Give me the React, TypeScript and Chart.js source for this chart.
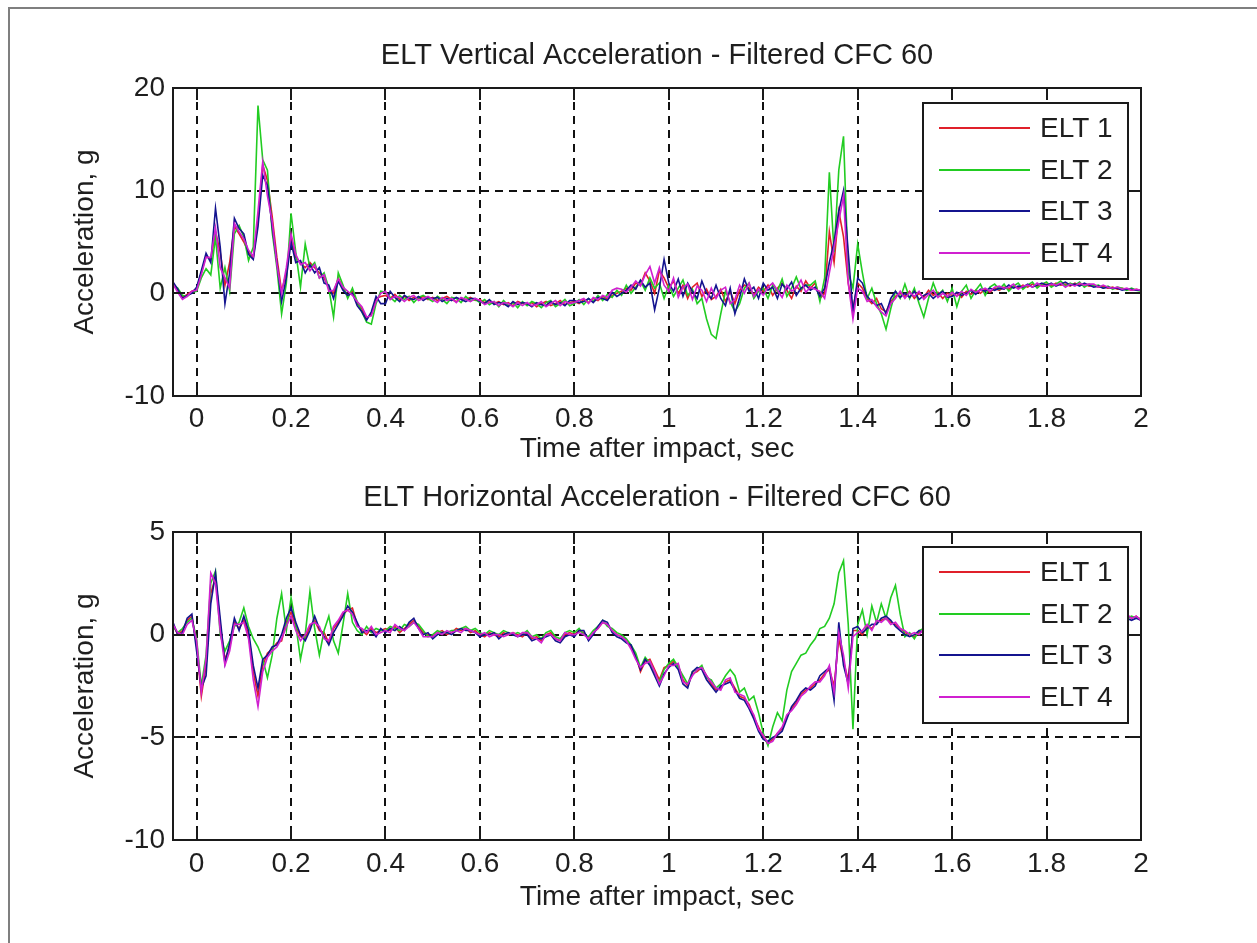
import React, { useEffect, useRef } from 'react';
import { Chart, registerables } from 'chart.js';

Chart.register(...registerables);

const FONT = "'Liberation Sans', Arial, Helvetica, sans-serif";
const TEXT_COLOR = '#1e1e1e';
const FONT_SIZE = 28;
const TITLE_FONT_SIZE = 29;

// Sample times (s)
const TIME = [
  -0.05, -0.04, -0.03, -0.02, -0.01,
  0.0, 0.01, 0.02, 0.03, 0.04, 0.05, 0.06, 0.07, 0.08, 0.09,
  0.1, 0.11, 0.12, 0.13, 0.14, 0.15, 0.16, 0.17, 0.18, 0.19,
  0.2, 0.21, 0.22, 0.23, 0.24, 0.25, 0.26, 0.27, 0.28, 0.29,
  0.3, 0.31, 0.32, 0.33, 0.34, 0.35, 0.36, 0.37, 0.38, 0.39,
  0.4, 0.41, 0.42, 0.43, 0.44, 0.45, 0.46, 0.47, 0.48, 0.49,
  0.5, 0.51, 0.52, 0.53, 0.54, 0.55, 0.56, 0.57, 0.58, 0.59,
  0.6, 0.61, 0.62, 0.63, 0.64, 0.65, 0.66, 0.67, 0.68, 0.69,
  0.7, 0.71, 0.72, 0.73, 0.74, 0.75, 0.76, 0.77, 0.78, 0.79,
  0.8, 0.81, 0.82, 0.83, 0.84, 0.85, 0.86, 0.87, 0.88, 0.89,
  0.9, 0.91, 0.92, 0.93, 0.94, 0.95, 0.96, 0.97, 0.98, 0.99,
  1.0, 1.01, 1.02, 1.03, 1.04, 1.05, 1.06, 1.07, 1.08, 1.09,
  1.1, 1.11, 1.12, 1.13, 1.14, 1.15, 1.16, 1.17, 1.18, 1.19,
  1.2, 1.21, 1.22, 1.23, 1.24, 1.25, 1.26, 1.27, 1.28, 1.29,
  1.3, 1.31, 1.32, 1.33, 1.34, 1.35, 1.36, 1.37, 1.38, 1.39,
  1.4, 1.41, 1.42, 1.43, 1.44, 1.45, 1.46, 1.47, 1.48, 1.49,
  1.5, 1.51, 1.52, 1.53, 1.54, 1.55, 1.56, 1.57, 1.58, 1.59,
  1.6, 1.61, 1.62, 1.63, 1.64, 1.65, 1.66, 1.67, 1.68, 1.69,
  1.7, 1.71, 1.72, 1.73, 1.74, 1.75, 1.76, 1.77, 1.78, 1.79,
  1.8, 1.81, 1.82, 1.83, 1.84, 1.85, 1.86, 1.87, 1.88, 1.89,
  1.9, 1.91, 1.92, 1.93, 1.94, 1.95, 1.96, 1.97, 1.98, 1.99,
  2.0,
];

const SERIES_LABELS = ['ELT 1', 'ELT 2', 'ELT 3', 'ELT 4'];
const SERIES_COLORS = ['#e0202a', '#22cc22', '#14148f', '#d020d0'];

const X_TICKS = [0, 0.2, 0.4, 0.6, 0.8, 1, 1.2, 1.4, 1.6, 1.8, 2];
const X_MIN = -0.05;
const X_MAX = 2;
const VERT_Y_TICKS = [-10, 0, 10, 20];
const HORIZ_Y_TICKS = [-10, -5, 0, 5];

const VERT_TITLE = 'ELT Vertical Acceleration - Filtered CFC 60';
const HORIZ_TITLE = 'ELT Horizontal Acceleration - Filtered CFC 60';
const X_TITLE = 'Time after impact, sec';
const Y_TITLE = 'Acceleration, g';

// ---------- Vertical acceleration (g) ----------
const VERT_ELT1 = [
  1.0, 0.3, -0.4, -0.1, 0.2,
  0.4, 2.0, 3.6, 3.3, 6.0, 4.0, 0.8, 3.0, 6.5, 5.8,
  5.0, 4.0, 3.5, 7.0, 12.5, 11.0, 7.5, 3.5, 0.2, 2.0,
  5.5, 3.5, 3.0, 2.5, 3.0, 2.5, 2.0, 1.5, 0.5, 0.0,
  1.5, 0.5, -0.3, 0.2, -1.0, -1.5, -2.5, -2.0, -0.5, -0.3,
  -0.2, -0.5, -0.1, -0.6, -0.3, -0.7, -0.4, -0.5, -0.3, -0.6,
  -0.4, -0.7, -0.5, -0.3, -0.6, -0.8, -0.5, -0.6, -0.4, -0.7,
  -0.6, -0.9, -0.7, -1.0, -0.8, -1.1, -0.9, -1.2, -0.8, -1.0,
  -1.1, -0.9, -1.3, -1.0, -0.8, -1.2, -1.0, -0.7, -1.1, -0.9,
  -0.8, -1.0, -0.6, -0.9, -0.5, -0.7, -0.3, -0.6, -0.2, 0.0,
  0.2, 0.5, 0.3, 1.0, 0.8, 2.0, 1.2, 0.0, 2.2, 1.5,
  0.5, 1.2, 0.0, 0.8, -0.5, 0.6, 1.0, -0.3, 0.4, -0.6,
  -0.3, 0.4, -0.8, 0.2, -1.0, 0.3, 0.8, 0.5, -0.2, 0.6,
  0.2, 0.8, -0.2, 0.5, 1.0, 0.3, -0.5, 0.7, 0.2, 1.2,
  0.5, 1.0, -0.5, 0.0, 6.0, 3.0, 8.0, 5.5, 1.0, -1.5,
  1.0, 0.5, -0.5, -1.0, -0.5, -1.5, -1.8, -0.8, -0.3, 0.0,
  -0.3, 0.2, -0.5, 0.0, -0.4, 0.3, -0.2, 0.1, -0.5, 0.0,
  -0.2, 0.0, -0.4, 0.2, -0.1, 0.3, 0.0, 0.4, 0.1, 0.5,
  0.3, 0.6, 0.4, 0.7, 0.5, 0.8, 0.6, 0.9, 0.7, 0.8,
  0.9, 0.7, 1.0, 0.8, 0.9, 0.7, 1.0, 0.8, 0.9, 0.7,
  0.8, 0.6, 0.7, 0.5, 0.6, 0.4, 0.5, 0.4, 0.3, 0.4,
  0.3,
];

const VERT_ELT2 = [
  0.8, 0.5, -0.2, -0.3, 0.1,
  0.2, 1.5, 2.4, 1.8, 5.5, 0.5, 2.5, 0.2, 5.8, 6.6,
  5.5, 3.2, 4.5, 18.3, 13.0, 12.0, 6.0, 2.5, -2.0, 1.0,
  7.8, 4.0, 0.6, 4.8, 2.5, 3.0, 1.5, 2.0, 0.5, -2.3,
  2.0, 0.8, -0.5, 0.5, -0.8, -1.8, -2.8, -3.0, -1.0, 0.2,
  0.1, -0.4, -0.8, -0.2, -0.6, -0.3, -0.9, -0.4, -0.2, -0.5,
  -0.8, -0.3, -0.6, -1.0, -0.4, -0.5, -0.9, -0.3, -0.7, -0.6,
  -0.9, -0.6, -1.1, -0.8, -1.3, -0.7, -1.2, -0.9, -1.4, -0.8,
  -1.2, -0.8, -1.0, -1.4, -0.9, -0.7, -1.3, -1.0, -0.6, -1.2,
  -1.0, -0.6, -1.1, -0.5, -0.8, -0.2, -0.7, -0.1, -0.4, 0.3,
  -0.2, 0.8, 0.0, 0.6, 1.2, 0.3, 1.5, 0.5, 1.0, -0.5,
  0.8, -0.3, 0.5, 1.3, -0.2, 0.4, -1.0, -0.5, -2.5, -4.0,
  -4.4, -2.0, 0.2, -0.8, -1.8, -1.0, 0.5, 1.0, -0.5, 0.2,
  0.5, -0.5, 0.8, 0.2, 1.4, -0.3, 0.5, 1.6, 0.4, 0.8,
  0.8, 1.2, -0.8, 1.5, 11.8, 4.0, 12.0, 15.3, 2.0, 0.5,
  4.8, 2.0, -0.5, 0.5, -1.0, -2.0, -3.5, -1.5, 0.2, -0.5,
  0.9, -0.5, 0.5, -1.0, -2.3, -0.5, 1.0, -0.2, 0.3, -0.8,
  0.5, -1.3, 0.2, 0.8, -0.5, 0.3, 0.9, -0.2, 0.6, 0.9,
  0.4, 0.9, 0.2, 0.7, 1.0, 0.4, 0.8, 1.1, 0.5, 0.9,
  1.1, 0.6, 0.9, 1.2, 0.7, 1.0, 0.8, 1.1, 0.6, 0.9,
  0.7, 0.8, 0.5, 0.7, 0.4, 0.6, 0.5, 0.3, 0.5, 0.3,
  0.2,
];

const VERT_ELT3 = [
  1.1, 0.4, -0.5, -0.2, 0.0,
  0.6, 2.2, 3.9, 3.0, 8.3, 4.5, -1.0, 2.0, 7.3, 6.3,
  5.8, 3.8, 3.3, 6.5, 11.5, 10.5, 6.5, 3.0, -0.8, 1.5,
  5.0, 3.0, 3.2, 2.0, 2.8, 2.0, 2.5, 1.0, 0.8, -0.5,
  1.2, 0.3, -0.2, 0.0, -1.2, -1.8, -2.6, -1.8, -0.3, -1.0,
  -1.0, 0.2, -0.4, -0.8, -0.2, -0.5, -0.6, -0.3, -0.7, -0.4,
  -0.5, -0.4, -0.8, -0.5, -0.7, -0.4, -0.6, -0.8, -0.5, -0.5,
  -0.8, -1.0, -0.6, -1.1, -0.9, -1.0, -1.3, -0.8, -1.1, -0.9,
  -1.0, -1.3, -0.9, -1.1, -1.2, -0.8, -1.1, -0.9, -1.2, -0.7,
  -0.7, -0.9, -0.8, -0.5, -0.9, -0.4, -0.5, -0.7, 0.1, -0.3,
  0.0, 0.3, 0.8, 0.4, 1.3, 0.6, 1.0, -1.6, 0.5, 3.3,
  1.0, 0.2, 1.4, -0.3, 1.0, 0.2, -0.5, 1.2, 0.0, -0.5,
  0.8, -0.5, -1.2, 0.5, -2.0, -0.4, 1.4, 0.2, 0.6, -0.5,
  1.0, 0.3, 0.6, -0.5, 0.9, 0.4, 1.1, -0.2, 0.5, 0.8,
  0.3, 0.6, -0.3, 0.5, 3.0, 5.0, 8.0, 10.0, 4.0, -1.8,
  1.5, 1.0, -0.3, -0.8, -1.2, -1.0, -2.0, -0.5, 0.2, -0.4,
  0.0, -0.4, 0.2, -0.6, -0.2, 0.0, -0.5, -0.1, 0.2, -0.4,
  -0.3, 0.1, -0.2, 0.0, 0.3, -0.1, 0.4, 0.2, 0.5, 0.3,
  0.5, 0.4, 0.8, 0.5, 0.7, 0.6, 0.9, 0.6, 0.8, 1.0,
  0.8, 1.0, 0.7, 0.9, 1.1, 0.8, 0.9, 0.7, 1.0, 0.8,
  0.6, 0.7, 0.5, 0.6, 0.5, 0.5, 0.3, 0.4, 0.4, 0.3,
  0.3,
];

const VERT_ELT4 = [
  0.9, 0.1, -0.6, -0.3, 0.2,
  0.3, 1.8, 3.5, 3.5, 6.4, 2.5, 1.5, 0.5, 6.8, 6.0,
  5.3, 4.2, 3.6, 8.0, 12.8, 9.5, 7.0, 2.8, 0.0, 2.5,
  5.8, 3.8, 2.8, 3.0, 2.2, 2.8, 1.5, 1.8, 0.2, 0.3,
  1.4, 0.6, 0.2, -0.2, -0.8, -1.3, -2.3, -2.2, -0.8, 0.0,
  0.2, -0.6, -0.3, -0.4, -0.8, -0.4, -0.2, -0.7, -0.5, -0.3,
  -0.6, -0.9, -0.4, -0.7, -0.5, -0.9, -0.4, -0.6, -0.8, -0.5,
  -0.7, -1.1, -0.9, -0.8, -1.2, -0.9, -1.0, -1.3, -0.9, -1.2,
  -0.9, -1.2, -1.1, -0.8, -1.3, -1.0, -0.7, -1.2, -0.8, -1.0,
  -0.9, -0.7, -0.5, -1.0, -0.4, -0.6, -0.2, -0.4, 0.3, 0.5,
  0.4, 0.1, 0.6, 1.2, 0.7, 1.8, 2.6, 1.0, 2.5, 0.8,
  0.2, 1.5, -0.4, 0.6, 0.9, -0.6, 0.7, 0.3, -0.8, 0.5,
  -0.5, 0.3, 0.6, -1.0, -0.6, 0.8, 0.0, 1.0, -0.3, 0.4,
  -0.2, 0.6, 1.0, 0.3, -0.4, 0.8, 0.2, 0.5, 1.3, 0.1,
  0.6, 0.4, 0.2, -0.5, 2.0, 4.5, 7.0, 9.5, 1.0, -2.5,
  0.5, 0.2, -0.8, -0.6, -1.3, -1.8, -2.2, -1.0, -0.5, 0.2,
  -0.5, 0.1, -0.3, 0.2, -0.6, -0.1, 0.3, -0.4, 0.0, -0.3,
  0.1, -0.3, 0.2, -0.2, 0.4, 0.1, 0.3, 0.5, 0.2, 0.6,
  0.7, 0.5, 0.6, 0.9, 0.4, 0.7, 0.8, 0.6, 1.0, 0.7,
  0.7, 0.9, 0.8, 1.0, 0.6, 0.9, 0.7, 1.0, 0.8, 0.9,
  0.9, 0.6, 0.8, 0.6, 0.5, 0.6, 0.4, 0.5, 0.3, 0.4,
  0.3,
];

// ---------- Horizontal acceleration (g) ----------
const HORIZ_ELT1 = [
  0.5, 0.0, 0.2, 0.7, 0.9,
  -0.5, -3.0, -1.5, 2.0, 2.8, 0.5, -1.2, -0.6, 0.6, 0.3,
  0.7, 0.0, -1.8, -3.0, -1.5, -0.9, -0.7, -0.4, -0.3, 0.6,
  1.1, 0.4, -0.1, -0.2, 0.4, 0.7, 0.2, 0.1, -0.4, 0.3,
  0.6, 1.0, 1.2, 1.3, 0.5, 0.2, 0.0, 0.3, 0.1, 0.2,
  0.3, 0.2, 0.4, 0.1, 0.3, 0.5, 0.7, 0.4, 0.1, 0.0,
  -0.1, 0.1, 0.2, 0.0, 0.1, 0.3, 0.2, 0.3, 0.1, 0.2,
  0.0, -0.1, 0.1, 0.0, -0.1, 0.1, 0.0, 0.1, 0.0, -0.1,
  0.1, -0.2, -0.1, -0.3, 0.0, 0.1, -0.2, -0.3, 0.0, 0.1,
  0.0, 0.2, 0.1, -0.2, 0.1, 0.3, 0.6, 0.5, 0.2, 0.0,
  -0.1, -0.3, -0.6, -1.0, -1.8, -1.3, -1.2, -1.7, -2.2, -1.6,
  -1.5, -1.3, -1.5, -2.2, -2.5, -1.9, -1.8, -1.6, -2.0, -2.4,
  -2.7, -2.6, -2.3, -2.2, -2.6, -3.0, -3.1, -3.4, -4.0, -4.5,
  -5.0, -5.3, -5.1, -4.8, -4.6, -4.0, -3.6, -3.3, -2.9, -2.7,
  -2.6, -2.4, -2.2, -1.9, -1.7, -2.5, -0.2, -1.3, -2.2, 0.2,
  0.2, 0.0, 0.4, 0.3, 0.6, 0.7, 0.8, 0.6, 0.5, 0.3,
  0.1, 0.0, -0.1, 0.1, 0.2, 0.3, 0.2, 0.4, 0.3, 0.5,
  0.5, 0.6, 0.4, 0.7, 0.6, 0.8, 0.7, 0.6, 0.8, 0.7,
  0.9, 0.8, 0.7, 0.9, 1.0, 0.8, 0.9, 0.7, 0.8, 1.0,
  0.9, 0.8, 1.0, 0.9, 0.7, 0.8, 1.0, 0.9, 0.8, 0.9,
  1.0, 0.9, 0.8, 0.9, 1.0, 0.9, 0.8, 0.9, 0.8, 0.9,
  0.7,
];

const HORIZ_ELT2 = [
  0.4, 0.1, 0.3, 0.6, 0.8,
  -0.2, -2.5, -1.0, 2.5, 3.1, 0.0, -0.8, -0.3, 0.4, 0.6,
  1.3, 0.4, -0.2, -0.6, -1.2, -2.1, -1.0, 0.8, 2.0, 0.2,
  1.8, 0.5, -1.2, 0.0, 2.1, 0.3, -1.0, 0.2, 0.9, -0.3,
  -0.9, 0.5, 2.0, 0.6, 0.2, 0.0, 0.4, 0.1, 0.3, 0.2,
  0.2, 0.4, 0.3, 0.2, 0.5, 0.4, 0.6, 0.5, 0.2, -0.1,
  0.0, 0.2, 0.1, 0.1, 0.2, 0.2, 0.3, 0.4, 0.2, 0.3,
  0.1, 0.0, 0.2, 0.1, 0.0, 0.2, 0.1, 0.0, 0.1, 0.0,
  0.2, -0.1, 0.0, -0.2, 0.1, 0.2, -0.1, -0.2, 0.1, 0.2,
  0.1, 0.3, 0.0, -0.1, 0.2, 0.4, 0.7, 0.4, 0.3, 0.1,
  0.0, -0.2, -0.5, -0.9, -1.6, -1.1, -1.4, -1.9, -2.3, -1.7,
  -1.4, -1.2, -1.6, -2.0, -2.4, -1.8, -1.7, -1.5, -2.1, -2.2,
  -2.6, -2.4, -2.0, -1.7, -2.0, -2.8, -2.6, -3.2, -3.0, -3.8,
  -4.8, -5.4, -4.5, -3.8, -4.2, -2.7, -1.8, -1.4, -1.0, -0.9,
  -0.5, -0.2, 0.3, 0.4, 0.8, 1.5, 3.0, 3.6, 0.5, -4.6,
  0.5, 1.2, 0.0, 1.4, 0.6, 1.5, 0.8, 1.8, 2.4, 1.0,
  -0.1, 0.1, -0.2, 0.2, 0.3, 0.1, 0.4, 0.3, 0.6, 0.4,
  0.6, 0.4, 0.8, 0.5, 0.9, 0.6, 0.5, 0.9, 0.7, 0.8,
  1.0, 0.7, 0.9, 1.1, 0.8, 1.0, 0.7, 0.9, 1.1, 0.9,
  0.8, 1.0, 0.9, 1.1, 0.8, 0.9, 1.0, 0.8, 1.0, 0.9,
  0.9, 1.0, 0.9, 0.8, 1.0, 0.9, 1.0, 0.8, 0.9, 0.8,
  0.8,
];

const HORIZ_ELT3 = [
  0.6, 0.0, 0.1, 0.8, 1.0,
  -0.8, -2.6, -2.0, 1.5, 3.0, 0.8, -1.4, -0.4, 0.8, 0.2,
  0.9, 0.2, -1.5, -2.6, -1.2, -1.0, -0.6, -0.5, 0.0, 0.8,
  1.3, 0.6, 0.0, -0.3, 0.2, 0.9, 0.3, -0.1, -0.5, 0.1,
  0.5, 0.9, 1.4, 1.1, 0.6, 0.1, 0.2, 0.2, -0.1, 0.3,
  0.1, 0.3, 0.2, 0.4, 0.2, 0.6, 0.8, 0.3, 0.0, 0.1,
  -0.2, 0.0, 0.1, 0.1, 0.0, 0.2, 0.3, 0.2, 0.2, 0.1,
  -0.1, 0.0, 0.0, 0.1, -0.2, 0.0, 0.1, 0.0, -0.1, 0.0,
  0.0, -0.3, -0.2, -0.2, -0.1, 0.0, -0.3, -0.4, -0.1, 0.0,
  -0.1, 0.2, 0.2, -0.3, 0.0, 0.4, 0.7, 0.6, 0.1, -0.1,
  -0.2, -0.4, -0.5, -1.1, -1.7, -1.2, -1.5, -2.0, -2.5, -1.9,
  -1.6, -1.4, -1.7, -2.4, -2.6, -1.8, -1.6, -1.7, -2.2, -2.5,
  -2.8, -2.5, -2.4, -2.3, -2.7, -3.1, -3.2, -3.6, -4.1, -4.7,
  -5.1, -5.2, -5.0, -4.9, -4.7, -4.1, -3.5, -3.2, -2.8, -2.6,
  -2.7, -2.5, -2.0, -1.8, -1.6, -3.2, 0.6, -1.5, -2.4, 0.3,
  0.4, 0.1, 0.3, 0.5, 0.5, 0.8, 0.9, 0.7, 0.4, 0.2,
  0.0, -0.1, 0.0, 0.2, 0.1, 0.3, 0.3, 0.5, 0.4, 0.4,
  0.4, 0.6, 0.5, 0.6, 0.7, 0.6, 0.8, 0.7, 0.7, 0.8,
  0.8, 0.9, 0.8, 0.8, 0.9, 1.0, 0.8, 0.9, 0.9, 0.8,
  1.0, 0.9, 0.8, 0.9, 1.0, 0.9, 0.8, 1.0, 0.9, 0.8,
  0.9, 0.8, 1.0, 0.9, 0.8, 1.0, 0.9, 0.8, 0.7, 0.8,
  0.7,
];

const HORIZ_ELT4 = [
  0.5, 0.1, 0.0, 0.5, 0.7,
  -0.3, -2.8, -1.2, 3.0, 2.5, 0.2, -1.5, -0.8, 0.5, 0.5,
  0.6, -0.2, -2.2, -3.5, -1.8, -1.1, -0.8, -0.6, -0.2, 0.4,
  0.9, 0.2, -0.3, 0.0, 0.5, 0.6, 0.4, -0.2, -0.3, 0.4,
  0.7, 1.1, 1.2, 1.0, 0.4, 0.3, 0.1, 0.4, 0.0, 0.1,
  0.2, 0.1, 0.5, 0.3, 0.2, 0.4, 0.6, 0.3, -0.1, -0.1,
  -0.1, 0.1, 0.0, 0.2, 0.1, 0.2, 0.1, 0.3, 0.2, 0.1,
  0.0, 0.1, -0.1, 0.0, 0.0, -0.1, 0.0, 0.1, -0.1, 0.1,
  0.1, -0.1, -0.2, -0.4, 0.0, 0.0, -0.2, -0.3, 0.1, 0.0,
  0.0, 0.1, 0.0, -0.2, 0.1, 0.3, 0.6, 0.5, 0.2, 0.0,
  -0.1, -0.3, -0.7, -1.2, -1.6, -1.4, -1.3, -1.8, -2.4, -2.0,
  -1.5, -1.5, -1.4, -2.3, -2.4, -2.0, -1.7, -1.6, -2.0, -2.3,
  -2.6, -2.7, -2.2, -2.1, -2.8, -2.9, -3.0, -3.5, -3.9, -4.6,
  -4.9, -5.3, -5.2, -4.8, -4.5, -3.9, -3.7, -3.4, -3.0, -2.8,
  -2.5, -2.3, -2.3, -2.0, -1.5, -2.8, 0.1, -1.0, -2.6, -0.1,
  0.1, 0.2, 0.5, 0.2, 0.7, 0.6, 0.8, 0.5, 0.6, 0.3,
  0.2, 0.0, 0.1, 0.0, 0.3, 0.2, 0.4, 0.3, 0.5, 0.3,
  0.6, 0.5, 0.7, 0.6, 0.5, 0.7, 0.8, 0.6, 0.9, 0.7,
  0.8, 1.0, 0.8, 0.7, 0.9, 0.9, 1.0, 0.8, 0.7, 0.9,
  0.8, 1.0, 0.9, 0.8, 0.9, 1.0, 0.9, 0.8, 1.0, 0.8,
  0.9, 0.8, 0.9, 1.0, 0.9, 0.8, 0.9, 1.0, 0.8, 0.9,
  0.7,
];

const VERT_SERIES = [VERT_ELT1, VERT_ELT2, VERT_ELT3, VERT_ELT4];
const HORIZ_SERIES = [HORIZ_ELT1, HORIZ_ELT2, HORIZ_ELT3, HORIZ_ELT4];

type PanelProps = {
  title: string;
  series: number[][];
  yMin: number;
  yMax: number;
  yTicks: number[];
  top: number;
  height: number;
  titlePadTop: number;
  titlePadBottom: number;
  xAxisHeight: number;
  xTickPad: number;
  xTitlePadBottom: number;
};

const framePlugin = {
  id: 'matlabFrame',
  afterDatasetsDraw(chart: any) {
    const { ctx, chartArea: a, scales } = chart;
    ctx.save();
    ctx.setLineDash([]);
    ctx.strokeStyle = '#1a1a1a';
    ctx.lineWidth = 2;
    ctx.strokeRect(a.left, a.top, a.right - a.left, a.bottom - a.top);
    const tl = 12;
    ctx.beginPath();
    scales.x.ticks.forEach((t: any) => {
      const px = Math.round(scales.x.getPixelForValue(t.value));
      ctx.moveTo(px, a.bottom);
      ctx.lineTo(px, a.bottom - tl);
      ctx.moveTo(px, a.top);
      ctx.lineTo(px, a.top + tl);
    });
    scales.y.ticks.forEach((t: any) => {
      const py = Math.round(scales.y.getPixelForValue(t.value));
      ctx.moveTo(a.left, py);
      ctx.lineTo(a.left + tl, py);
      ctx.moveTo(a.right, py);
      ctx.lineTo(a.right - tl, py);
    });
    ctx.stroke();
    ctx.restore();
  },
  afterDraw(chart: any) {
    const { ctx, chartArea: a } = chart;
    const w = 205;
    const h = 176;
    const x = a.right - 13 - w;
    const y = a.top + 15;
    ctx.save();
    ctx.setLineDash([]);
    ctx.fillStyle = '#ffffff';
    ctx.fillRect(x, y, w, h);
    ctx.strokeStyle = '#1a1a1a';
    ctx.lineWidth = 2;
    ctx.strokeRect(x, y, w, h);
    ctx.font = `${FONT_SIZE}px ${FONT}`;
    ctx.textBaseline = 'middle';
    ctx.textAlign = 'left';
    chart.data.datasets.forEach((ds: any, i: number) => {
      const cy = Math.round(y + 25 + i * 41.7);
      ctx.strokeStyle = ds.borderColor;
      ctx.lineWidth = 2;
      ctx.beginPath();
      ctx.moveTo(x + 16, cy);
      ctx.lineTo(x + 107, cy);
      ctx.stroke();
      ctx.fillStyle = TEXT_COLOR;
      ctx.fillText(ds.label, x + 117, cy + 1);
    });
    ctx.restore();
  },
};

function Panel(p: PanelProps) {
  const ref = useRef<HTMLCanvasElement | null>(null);
  useEffect(() => {
    if (!ref.current) return;
    const datasets = SERIES_LABELS.map((label, i) => ({
      label,
      data: TIME.map((t, j) => ({ x: t, y: p.series[i][j] })),
      borderColor: SERIES_COLORS[i],
      backgroundColor: SERIES_COLORS[i],
      borderWidth: 1.6,
      pointRadius: 0,
      tension: 0,
      fill: false,
      order: SERIES_LABELS.length - 1 - i,
    }));
    const tickFont = { size: FONT_SIZE, family: FONT };
    const chart = new Chart(ref.current, {
      type: 'line',
      data: { datasets },
      options: {
        responsive: false,
        animation: false,
        devicePixelRatio: 1,
        events: [],
        layout: { padding: { left: 0, right: 1257 - 1141, top: 0, bottom: 0 } },
        plugins: {
          legend: { display: false },
          tooltip: { enabled: false },
          title: {
            display: true,
            text: p.title,
            fullSize: false,
            color: TEXT_COLOR,
            font: { size: TITLE_FONT_SIZE, family: FONT, weight: 'normal' },
            padding: { top: p.titlePadTop, bottom: p.titlePadBottom },
          },
        },
        scales: {
          x: {
            type: 'linear',
            min: X_MIN,
            max: X_MAX,
            afterBuildTicks: (s: any) => {
              s.ticks = X_TICKS.map((v) => ({ value: v }));
            },
            afterFit: (s: any) => {
              s.height = p.xAxisHeight;
            },
            ticks: {
              autoSkip: false,
              maxRotation: 0,
              padding: p.xTickPad,
              color: TEXT_COLOR,
              font: tickFont,
              callback: (v: any) => String(v),
            },
            grid: { color: '#111111', lineWidth: 2, drawTicks: false },
            border: { display: false, dash: [8, 6] },
            title: {
              display: true,
              text: X_TITLE,
              color: TEXT_COLOR,
              font: tickFont,
              padding: { top: 0, bottom: p.xTitlePadBottom },
            },
          },
          y: {
            type: 'linear',
            min: p.yMin,
            max: p.yMax,
            afterBuildTicks: (s: any) => {
              s.ticks = p.yTicks.map((v) => ({ value: v }));
            },
            afterFit: (s: any) => {
              s.width = 173;
            },
            ticks: {
              padding: 8,
              color: TEXT_COLOR,
              font: tickFont,
              callback: (v: any) => String(v),
            },
            grid: { color: '#111111', lineWidth: 2, drawTicks: false },
            border: { display: false, dash: [8, 6] },
            title: {
              display: true,
              text: Y_TITLE,
              color: TEXT_COLOR,
              font: tickFont,
              padding: { top: 68, bottom: 0 },
            },
          },
        },
      },
      plugins: [framePlugin],
    } as any);
    return () => chart.destroy();
  }, []);
  return (
    <canvas
      ref={ref}
      width={1257}
      height={p.height}
      style={{ position: 'absolute', left: 0, top: p.top, width: 1257, height: p.height }}
    />
  );
}

export default function App() {
  return (
    <div
      style={{
        position: 'absolute',
        left: 0,
        top: 0,
        width: 1257,
        height: 943,
        background: '#ffffff',
        overflow: 'hidden',
      }}
    >
      <div
        style={{
          position: 'absolute',
          left: 8,
          top: 7,
          width: 1300,
          height: 1000,
          borderLeft: '2px solid #7f7f7f',
          borderTop: '2px solid #7f7f7f',
        }}
      />
      <Panel
        title={VERT_TITLE}
        series={VERT_SERIES}
        yMin={-10}
        yMax={20}
        yTicks={VERT_Y_TICKS}
        top={0}
        height={470}
        titlePadTop={38.6}
        titlePadBottom={14.6}
        xAxisHeight={74}
        xTickPad={6}
        xTitlePadBottom={4}
      />
      <Panel
        title={HORIZ_TITLE}
        series={HORIZ_SERIES}
        yMin={-10}
        yMax={5}
        yTicks={HORIZ_Y_TICKS}
        top={470}
        height={473}
        titlePadTop={10.6}
        titlePadBottom={16.6}
        xAxisHeight={103}
        xTickPad={7}
        xTitlePadBottom={29}
      />
    </div>
  );
}
